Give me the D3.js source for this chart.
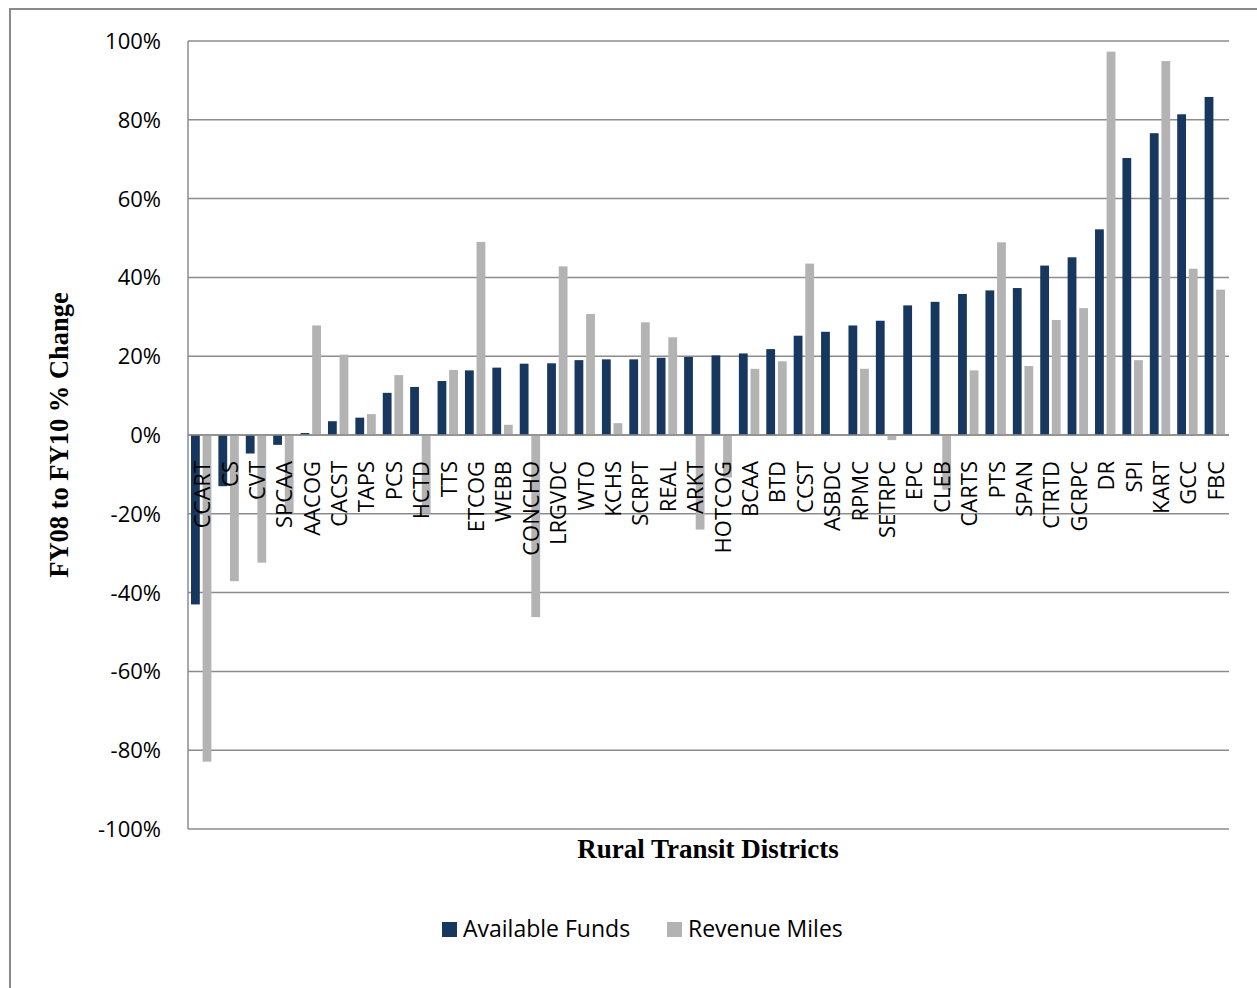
<!DOCTYPE html>
<html><head><meta charset="utf-8">
<script src="https://cdn.jsdelivr.net/npm/d3@7"></script>
<style>body{margin:0;background:#fff}svg{display:block}</style>
</head><body>
<script>
const categories = ["CCART","CS","CVT","SPCAA","AACOG","CACST","TAPS","PCS","HCTD","TTS","ETCOG","WEBB","CONCHO","LRGVDC","WTO","KCHS","SCRPT","REAL","ARKT","HOTCOG","BCAA","BTD","CCST","ASBDC","RPMC","SETRPC","EPC","CLEB","CARTS","PTS","SPAN","CTRTD","GCRPC","DR","SPI","KART","GCC","FBC"];
const availableFunds = [-43.0,-13.0,-4.7,-2.5,0.5,3.5,4.4,10.7,12.2,13.7,16.4,17.1,18.1,18.2,19.0,19.2,19.2,19.6,19.8,20.2,20.7,21.8,25.2,26.2,27.8,29.0,32.9,33.8,35.8,36.7,37.3,43.0,45.1,52.2,70.3,76.6,81.4,85.8];
const revenueMiles = [-82.9,-37.1,-32.4,-19.9,27.8,20.4,5.3,15.2,-19.9,16.5,49.0,2.6,-46.2,42.8,30.7,3.0,28.6,24.8,-24.0,-10.8,16.8,18.7,43.5,0,16.8,-1.3,0,-13.9,16.4,48.9,17.5,29.2,32.2,97.3,19.0,94.9,42.2,36.9];
const yTicks = [100,80,60,40,20,0,-20,-40,-60,-80,-100];
const seriesNames = ["Available Funds","Revenue Miles"];
const colors = ["#17375E","#B3B3B3"];

(function(){
const W = 1257, H = 988;
const svg = d3.select("body").append("svg").attr("width", W).attr("height", H);

// outer frame
svg.append("rect").attr("x",10).attr("y",9).attr("width",1400).attr("height",1200)
  .attr("fill","none").attr("stroke","#8a8a8a").attr("stroke-width",2);

const pLeft = 188, pRight = 1229, pTop = 41, pBottom = 829;
const x = d3.scaleBand().domain(categories).range([pLeft,pRight]).padding(0);
const y = d3.scaleLinear().domain([-100,100]).range([pBottom,pTop]);
const step = x.step();
const bw = 8.8;

// gridlines
svg.append("g").selectAll("line").data(yTicks).join("line")
  .attr("x1",pLeft).attr("x2",pRight)
  .attr("y1",d=>y(d)).attr("y2",d=>y(d))
  .attr("stroke","#8c8c8c").attr("stroke-width",1.5);

// y axis line
svg.append("line").attr("x1",pLeft).attr("x2",pLeft).attr("y1",pTop).attr("y2",pBottom)
  .attr("stroke","#8c8c8c").attr("stroke-width",1.5);

// tick labels
svg.append("g").selectAll("text").data(yTicks).join("text")
  .attr("x",161).attr("y",d=>y(d)).attr("dy","0.36em")
  .attr("text-anchor","end")
  .attr("font-family","'Open Sans', sans-serif").attr("font-size",22)
  .attr("fill","#000")
  .text(d=>d+"%");

// bars
const series = [availableFunds, revenueMiles];
const offsets = [3, 14.6];
series.forEach((vals,s)=>{
  svg.append("g").selectAll("rect").data(vals).join("rect")
    .attr("x",(d,i)=>x(categories[i])+offsets[s])
    .attr("width",bw)
    .attr("y",d=>y(Math.max(0,d)))
    .attr("height",d=>Math.abs(y(d)-y(0)))
    .attr("fill",colors[s]);
});

// zero line on top
svg.append("line").attr("x1",pLeft).attr("x2",pRight).attr("y1",y(0)).attr("y2",y(0))
  .attr("stroke","#8c8c8c").attr("stroke-width",1.5);

// category labels
svg.append("g").selectAll("text").data(categories).join("text")
  .attr("transform",d=>`translate(${x(d)+step/2+0.5},461) rotate(-90)`)
  .attr("dy","0.36em")
  .attr("text-anchor","end")
  .attr("font-family","'Open Sans', sans-serif").attr("font-size",22)
  .attr("fill","#000")
  .text(d=>d);

// axis titles
svg.append("text")
  .attr("transform",`translate(68,435) rotate(-90)`)
  .attr("text-anchor","middle")
  .attr("font-family","'Liberation Serif', 'Times New Roman', serif")
  .attr("font-weight","bold").attr("font-size",26.5)
  .text("FY08 to FY10 % Change");

svg.append("text")
  .attr("x",708).attr("y",858)
  .attr("text-anchor","middle")
  .attr("font-family","'Liberation Serif', 'Times New Roman', serif")
  .attr("font-weight","bold").attr("font-size",27)
  .text("Rural Transit Districts");

// legend
const legX = [442, 667];
const lg = svg.append("g");
seriesNames.forEach((n,i)=>{
  lg.append("rect").attr("x",legX[i]).attr("y",922).attr("width",15).attr("height",15).attr("fill",colors[i]);
  lg.append("text").attr("x",legX[i]+21).attr("y",937)
    .attr("font-family","'Open Sans', sans-serif").attr("font-size",23)
    .attr("fill","#000").text(n);
});
})();
</script>
</body></html>
